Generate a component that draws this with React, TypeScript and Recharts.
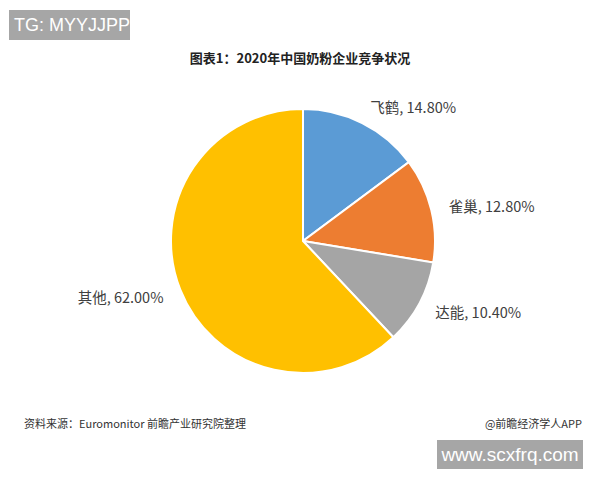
import { Cell, Pie, PieChart } from 'recharts';

const companies = ['飞鹤', '雀巢', '达能', '其他'];
const shares = [14.8, 12.8, 10.4, 62.0];
const colors = ['#5B9BD5', '#ED7D31', '#A5A5A5', '#FFC000'];

const data = companies.map((name, i) => ({ name, value: shares[i] }));

const RAD = Math.PI / 180;
const FONT = '"Noto Sans CJK SC", "Noto Sans", sans-serif';

const renderLabel = (props: any) => {
  const { cx, cy, midAngle, outerRadius, name, value } = props;
  const r = outerRadius + 18;
  const x = cx + r * Math.cos(-midAngle * RAD);
  const y = cy + r * Math.sin(-midAngle * RAD);
  const anchor = Math.cos(-midAngle * RAD) >= 0 ? 'start' : 'end';
  return (
    <text x={x} y={y} textAnchor={anchor} dominantBaseline="central" fill="#404040" fontSize={14.5} fontFamily={FONT}>
      {`${name}, ${value.toFixed(2)}%`}
    </text>
  );
};

const App = () => {
  return (
    <div style={{ position: 'absolute', left: 0, top: 0, width: 600, height: 480, background: '#fff', fontFamily: FONT, overflow: 'hidden' }}>
      <div style={{ position: 'absolute', left: 9, top: 10, width: 121, height: 30, background: '#a6a6a6', color: '#fff', fontSize: 18, lineHeight: '30px', paddingLeft: 5, boxSizing: 'border-box', fontFamily: '"Liberation Sans", Arial, sans-serif' }}>
        TG: MYYJJPP
      </div>
      <div style={{ position: 'absolute', left: 0, top: 48, width: 600, textAlign: 'center', fontSize: 13, fontWeight: 'bold', color: '#222' }}>
        图表1：2020年中国奶粉企业竞争状况
      </div>
      <PieChart width={600} height={480} margin={{ top: 0, right: 0, bottom: 0, left: 0 }}>
        <Pie
          data={data}
          dataKey="value"
          nameKey="name"
          cx={303}
          cy={241}
          outerRadius={132}
          startAngle={90}
          endAngle={-270}
          stroke="#fff"
          strokeWidth={2}
          label={renderLabel}
          labelLine={false}
          isAnimationActive={false}
        >
          {data.map((d, i) => (
            <Cell key={d.name} fill={colors[i]} />
          ))}
        </Pie>
      </PieChart>
      <div style={{ position: 'absolute', left: 24, top: 415, fontSize: 11, color: '#333' }}>
        资料来源：Euromonitor 前瞻产业研究院整理
      </div>
      <div style={{ position: 'absolute', right: 18, top: 415, fontSize: 11, color: '#333' }}>
        @前瞻经济学人APP
      </div>
      <div style={{ position: 'absolute', left: 437, top: 440, width: 146, height: 29, background: '#a6a6a6', color: '#fff', fontSize: 19, lineHeight: '29px', textAlign: 'center', fontFamily: '"Liberation Sans", Arial, sans-serif' }}>
        www.scxfrq.com
      </div>
    </div>
  );
};

export default App;
